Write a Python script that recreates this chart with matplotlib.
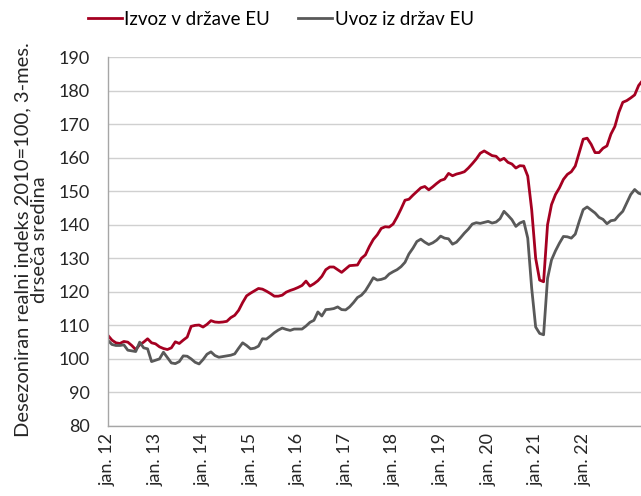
import matplotlib
matplotlib.use("Agg")
import matplotlib.pyplot as plt
import numpy as np

# monthly, 3-month moving average, index 2010=100 (starting jan 2012)
izvoz = [
    107.0, 105.6, 104.8, 104.6, 105.2, 105.0, 104.0, 102.8, 104.2, 105.0, 106.0, 104.8,
    104.5, 103.6, 103.1, 102.8, 103.3, 105.1, 104.6, 105.6, 106.5, 109.7, 110.0, 110.1,
    109.5, 110.3, 111.4, 111.0, 110.9, 111.0, 111.2, 112.3, 113.0, 114.5, 116.8, 118.8,
    119.6, 120.3, 121.0, 120.8, 120.2, 119.5, 118.7, 118.7, 119.0, 119.9, 120.4, 120.8,
    121.3, 121.9, 123.2, 121.7, 122.4, 123.3, 124.6, 126.6, 127.4, 127.4, 126.6, 125.8,
    126.8, 127.8, 127.9, 128.0, 130.0, 131.0, 133.5, 135.6, 137.0, 138.9, 139.4, 139.3,
    140.2, 142.3, 144.7, 147.3, 147.6, 148.8, 149.9, 151.0, 151.4, 150.4, 151.3, 152.3,
    153.2, 153.6, 155.3, 154.6, 155.1, 155.4, 155.8, 156.9, 158.2, 159.6, 161.3, 162.0,
    161.3, 160.6, 160.4, 159.2, 159.8, 158.6, 158.1, 156.9, 157.6, 157.5, 154.5, 144.4,
    130.0, 123.5, 123.0, 140.0, 146.0, 149.0, 151.0, 153.5, 155.0, 155.8, 157.5, 161.5,
    165.5, 165.8, 164.0, 161.5, 161.5, 162.8, 163.5, 167.0, 169.3, 173.5, 176.5, 177.0,
    177.8, 178.7, 181.5, 183.0,
]
uvoz = [
    105.5, 104.3, 104.0, 104.0, 104.2, 102.6, 102.4, 102.2, 105.0, 103.3, 103.0, 99.2,
    99.6, 100.0, 102.0, 100.4, 98.8, 98.6, 99.2, 100.9, 100.8, 100.0, 99.0, 98.5,
    99.8, 101.4, 102.1, 101.0, 100.5, 100.7, 100.9, 101.1, 101.5, 103.2, 104.8, 104.0,
    103.0, 103.2, 103.8, 106.0, 105.9, 106.8, 107.8, 108.6, 109.2, 108.8, 108.5, 108.9,
    108.9, 108.9, 109.8, 110.9, 111.5, 114.0, 112.8, 114.7, 114.8, 115.0, 115.5, 114.7,
    114.6, 115.5, 116.8, 118.3, 119.0, 120.3, 122.2, 124.2, 123.5, 123.7, 124.1, 125.3,
    126.0, 126.6, 127.5, 128.8, 131.3, 133.0, 135.0, 135.7, 134.8, 134.1, 134.6, 135.4,
    136.6, 136.0, 135.8, 134.2, 134.8, 136.1, 137.5, 138.7, 140.2, 140.6, 140.4, 140.7,
    141.0, 140.5, 140.8, 141.8, 144.0, 142.8, 141.5, 139.5, 140.5, 141.0, 136.0, 121.0,
    109.5, 107.6, 107.2, 124.0, 129.5, 132.2, 134.5, 136.5, 136.4, 136.0, 137.2, 141.0,
    144.5, 145.3, 144.4, 143.5, 142.2, 141.6, 140.3, 141.2, 141.4, 142.8, 144.0, 146.5,
    149.0, 150.5, 149.4, 149.0,
]
tick_labels = ["jan. 12", "jan. 13", "jan. 14", "jan. 15", "jan. 16", "jan. 17",
               "jan. 18", "jan. 19", "jan. 20", "jan. 21", "jan. 22"]
ylabel = "Desezoniran realni indeks 2010=100, 3-mes.\ndrseča sredina"

plt.rcParams['font.family'] = ['Lato', 'DejaVu Sans']

fig = plt.figure(figsize=(6.41, 4.96), dpi=100)
ax = fig.add_axes([108 / 641, 70 / 496, 1 - 108 / 641, 369 / 496])

x = np.arange(len(izvoz))
ax.plot(x, izvoz, color="#a50021", lw=2.0, label="Izvoz v države EU", solid_joinstyle="round")
ax.plot(x, uvoz, color="#595959", lw=2.0, label="Uvoz iz držav EU", solid_joinstyle="round")

ax.set_xlim(0, 134.6)
ax.set_ylim(80, 190)
ax.set_yticks(np.arange(80, 191, 10))
ax.set_xticks(np.arange(0, 12 * len(tick_labels), 12))
ax.set_xticklabels(tick_labels, rotation=90, fontsize=13, color="#262626")
ax.tick_params(axis="y", labelsize=13, length=0, pad=13, labelcolor="#262626")
ax.tick_params(axis="x", length=0, pad=5)

ax.grid(axis="y", color="#d0d0d0", lw=1)
ax.set_axisbelow(True)
for s in ["top", "right"]:
    ax.spines[s].set_visible(False)
for s in ["left", "bottom"]:
    ax.spines[s].set_color("#a6a6a6")
    ax.spines[s].set_linewidth(1)

ax.set_ylabel(ylabel, fontsize=14.5, color="#262626", linespacing=1.0,
              family=['Liberation Sans Narrow', 'Lato', 'DejaVu Sans'])
ax.yaxis.set_label_coords(-0.112, 0.505)

fig.legend(loc="upper center", bbox_to_anchor=(0.438, 1.012), ncol=2, frameon=False,
           fontsize=13.5, handlelength=1.8, handletextpad=0.15, columnspacing=1.5)

fig.savefig("out.png", dpi=100)
